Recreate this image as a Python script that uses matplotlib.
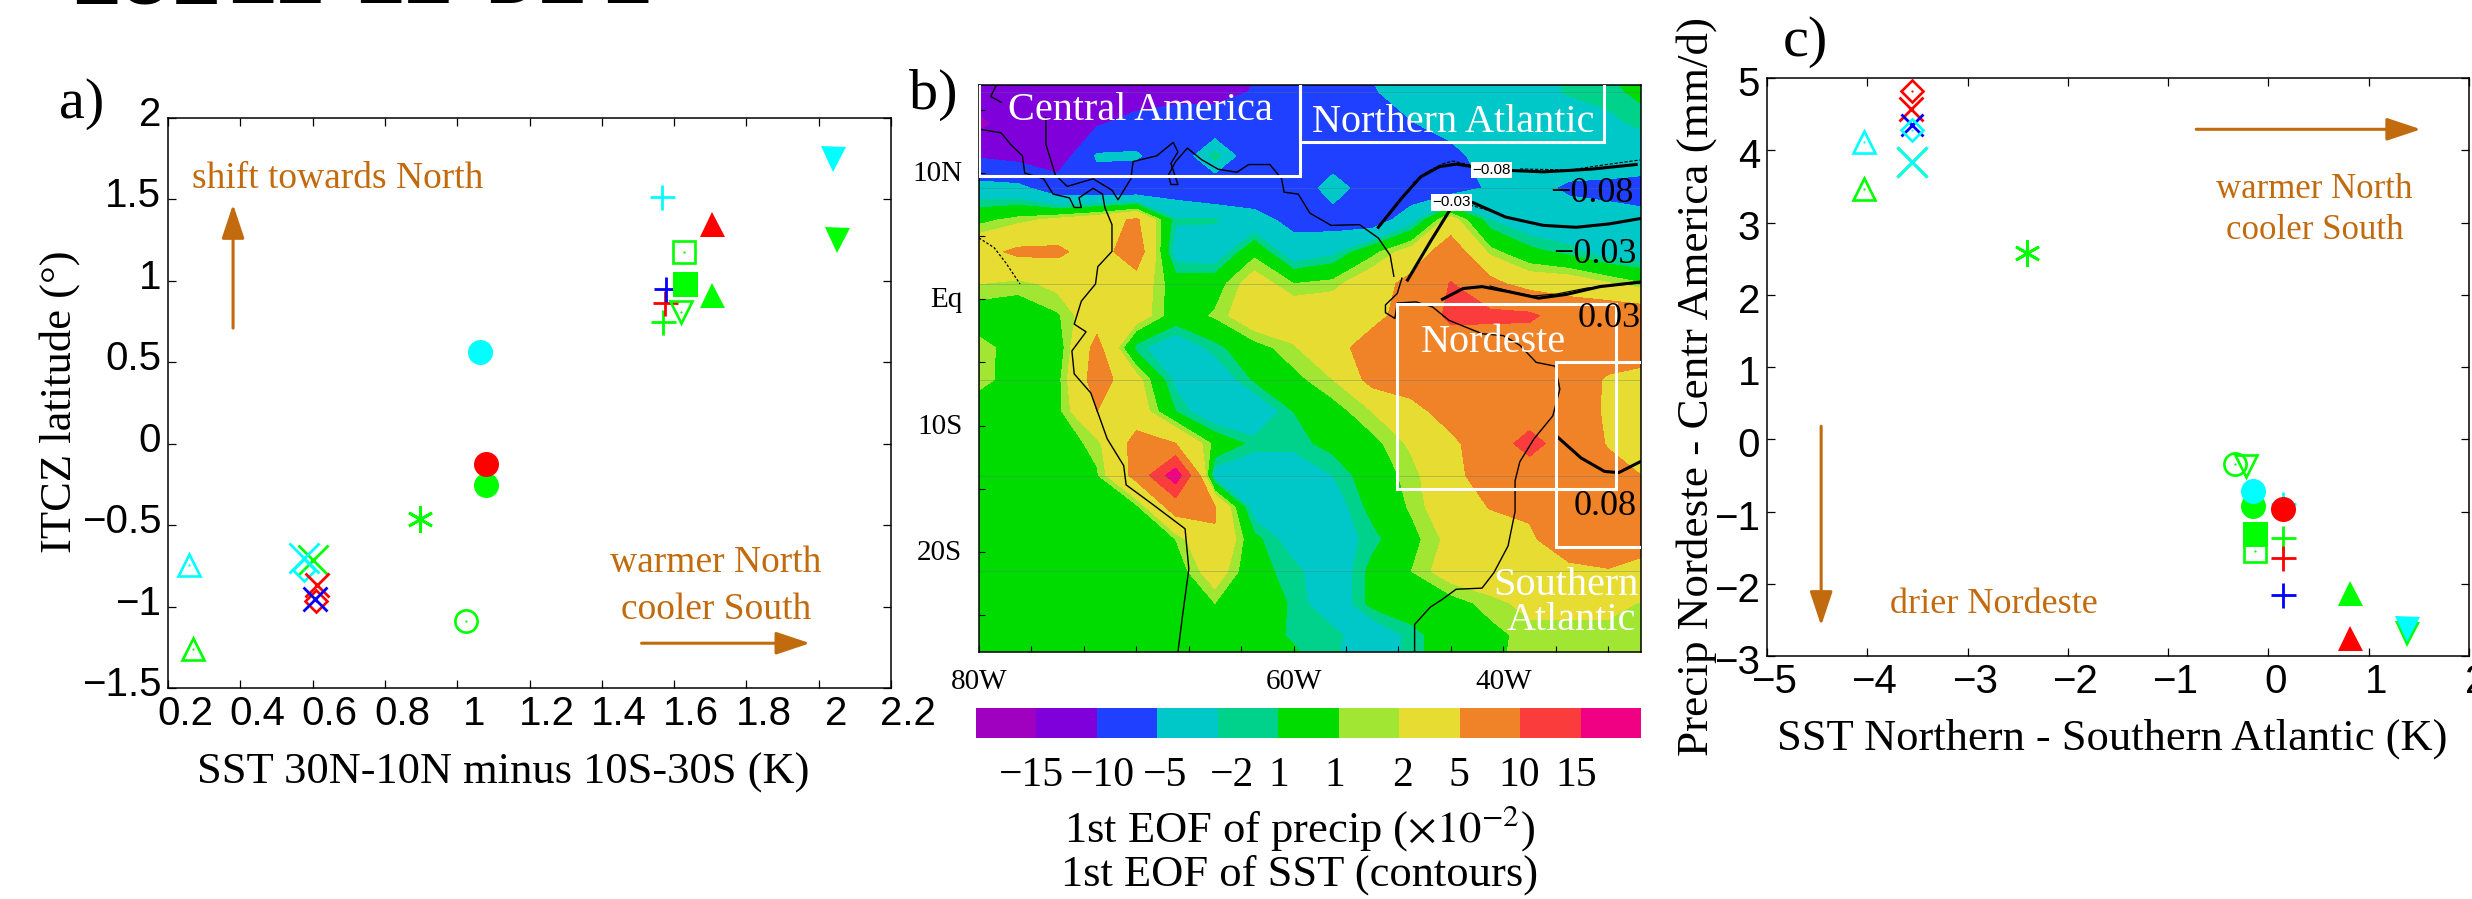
import numpy as np
import matplotlib
matplotlib.use('Agg')
import matplotlib.pyplot as plt
from matplotlib.colors import ListedColormap
from matplotlib.patches import Rectangle
from matplotlib.transforms import ScaledTranslation

W, H = 2472, 899
DPI = 100
plt.rcParams['mathtext.fontset'] = 'stix'
SERIF = 'Liberation Serif'
SANS = 'Liberation Sans'
ORANGE = '#C26A0E'
CY, GR, RD, BL = '#00FFFF', '#00FF00', '#FF0000', '#0000FF'

# ---------------- panel a ----------------
a_x = [0.257, 0.269, 0.602, 0.576, 0.577, 0.613, 0.61, 0.608, 0.897, 1.025, 1.079, 1.079, 1.064,
       1.566, 1.569, 1.576, 1.578, 1.627, 1.63, 1.619, 1.705, 1.704, 2.04, 2.05]
a_y = [-0.745, -1.26, -0.713, -0.70, -0.776, -0.87, -0.964, -0.955, -0.46, -1.09, -0.253, -0.124, 0.562,
       1.514, 0.747, 0.863, 0.95, 1.18, 0.982, 0.81, 1.348, 0.916, 1.746, 1.248]
a_c = [CY, GR, GR, CY, CY, RD, RD, BL, GR, GR, GR, RD, CY,
       CY, GR, RD, BL, GR, GR, GR, RD, GR, CY, GR]
a_m = ['^o', '^o', 'x', 'x', 'Do', 'xm', 'Do', 'xm', '*', 'oo', 'o', 'o', 'o',
       '+', '+', '+', '+', 'so', 's', 'vo', '^', '^', 'v', 'v']
a_xticks = [0.2, 0.4, 0.6, 0.8, 1, 1.2, 1.4, 1.6, 1.8, 2, 2.2]
a_xlabels = ['0.2', '0.4', '0.6', '0.8', '1', '1.2', '1.4', '1.6', '1.8', '2', '2.2']
a_yticks = [-1.5, -1, -0.5, 0, 0.5, 1, 1.5, 2]
a_ylabels = ['\u22121.5', '\u22121', '\u22120.5', '0', '0.5', '1', '1.5', '2']

# ---------------- panel c ----------------
c_x = [-3.556, -3.56, -3.556, -3.556, -3.556, -3.556, -4.036, -4.036, -2.41, -0.337, -0.22,
       -0.153, -0.153, 0.148, 0.148, -0.138, -0.138, 0.148, 0.148, 0.148, 0.816, 0.816, 1.378, 1.378]
c_y = [4.82, 4.57, 4.35, 3.84, 3.84, 4.28, 4.12, 3.47, 2.58, -0.346, -0.374,
       -0.925, -0.72, -0.9, -0.96, -1.54, -1.31, -1.37, -1.64, -2.16, -2.13, -2.75, -2.70, -2.63]
c_c = [RD, RD, BL, GR, CY, CY, CY, GR, GR, GR, GR,
       GR, CY, CY, RD, GR, GR, GR, RD, BL, GR, RD, GR, CY]
c_m = ['Do', 'xm', 'xs', 'xl', 'xl', 'Do', '^o', '^o', '*', 'oo', 'vo',
       'o', 'o', '+', 'o', 'so', 's', '+', '+', '+', '^', '^', 'v', 'v']
c_xticks = [-5, -4, -3, -2, -1, 0, 1, 2]
c_xlabels = ['\u22125', '\u22124', '\u22123', '\u22122', '\u22121', '0', '1', '2']
c_yticks = [-3, -2, -1, 0, 1, 2, 3, 4, 5]
c_ylabels = ['\u22123', '\u22122', '\u22121', '0', '1', '2', '3', '4', '5']

# ---------------- panel b: precipitation EOF (x10^-2) ----------------
grid_lon = -90 + 3.75 * np.arange(18)
grid_lat = 18.94 - 2.53 * np.arange(20)
precip = [
 [-13,-13,-13,-13,-13,-12,-11,-10.5,-7,-7,-4.5,-3.5,-3.5,-3.5,-3,-1.5,-0.8,0],
 [-13,-13,-13,-14,-13,-12,-11,-9.8,-7,-7,-5.3,-3.5,-3.5,-3.5,-3,-1.8,-1.4,-0.5],
 [-16,-13,-11.5,-10.5,-8,-7,-8.5,-7,-7,-7,-7,-5.2,-3.8,-3.5,-3.5,-3.5,-2.5,-1.5],
 [-10.5,-11.5,-13,-4.5,-4.5,-8.5,-1,-8.5,-7,-7,-7,-7,-6,-3.5,-3.5,-3.5,-3.5,-3.5],
 [-3.5,-4,-7.5,-7.5,-8,-7,-8.5,-7.5,-7.5,-3.5,-7,-7.5,-7,-4.5,-4.2,-5.4,-5.6,-6],
 [0.5,1.5,2.5,3.5,5.5,-1.8,-1.8,-3.8,-6,-6.5,-7,-3,3,-2,-3.5,-3.8,-4.2,-4.4],
 [4,5.6,5.6,3.5,7,-3,-3.5,0.5,-3.5,-2.5,0.5,3,7,1.5,-0.5,-1.5,-3,-3.5],
 [2,1.5,2.5,4,3.5,0,0.2,3,1,1.5,3.5,6,10.2,6,3.5,3.3,2.2,1],
 [0,0,0.8,3.5,3.2,0,1.2,3.5,3.5,3.5,4,6.5,11,11,10.8,7.5,7.5,7],
 [1.5,0.3,0,6,-1.5,-3.5,-1.5,0.3,1.8,3.8,6.5,7,7.5,7,7,7,7,7],
 [1.5,0.2,0.5,6.5,2.8,-2.5,-3.5,-0.8,0.5,2,6,6.5,7,7,7,7,4.6,3.5],
 [0,0,0.5,5,3.5,-1,-3.8,-3.8,-1,0.3,2,4,6.3,7,7,7,4.5,3.5],
 [0,0,0,1.5,6,5,0.5,-1.5,-1.5,-0.5,0.5,2.3,4.3,7,12,7,4.8,3.5],
 [0,0,0,0.8,6,18,-3,-3.5,-3.5,-2,0,1.5,3.8,7,7,7,6,4.8],
 [0,0,0,0,0.5,6.5,5.2,-3,-3.5,-3,-0.5,1.2,3.5,5.1,5.5,7,7,7],
 [0,0,0,0,0,1,4.8,-0.5,-3,-3,-1.5,0.5,2.5,3.5,4.5,7,7,6.5],
 [0,0,0,0,0,0,3.2,-0.5,-1.5,-3.5,-0.5,1,3,3.5,3.5,4.2,4.8,3.5],
 [0,0,0,0,0,0,1,0,-1.2,-3.5,-0.5,0,0.3,1.5,2.5,2.5,2.5,1.8],
 [0,0,0,0,0,0,0,-0.3,-1.2,-1.5,-3.5,-1.5,0,0.5,1.5,1.5,1.5,1.5],
 [0,0,0,0,0,0,0,-0.3,-0.5,-1.8,-3.5,-1.5,0,0.7,1.5,1.5,1.5,1.5],
]
cb_levels = [-100, -15, -10, -5, -2, -1, 1, 2, 5, 10, 15, 100]
cb_colors = ['#A000C0', '#8000DC', '#2040FF', '#00C8C8', '#00D28C', '#00DC00',
             '#A0E632', '#E6DC32', '#F08228', '#FA3C3C', '#F00082']
cb_labels = ['\u221215', '\u221210', '\u22125', '\u22122', '1', '1', '2', '5', '10', '15']
cb_label_pos = [0.92, 2.09, 3.12, 4.24, 5.0, 5.94, 7.06, 7.98, 8.99, 9.93]

coast_pac_lon = [-90, -87.89, -86.99, -85.86, -85.64, -83.84, -82.94, -81.37, -80.92, -80.24, -80.47, -79.12, -78.22,
                 -78.0, -77.32, -77.32, -78.67, -78.89, -80.24, -80.92, -79.79, -81.14, -80.92, -79.34, -77.77, -76.2,
                 -75.97, -73.5, -70.35, -69.99, -70.58, -71.03]
coast_pac_lat = [13.48, 13.18, 12.27, 11.36, 10.0, 9.54, 8.33, 8.03, 7.27, 7.27, 8.03, 8.79, 8.33,
                 7.27, 5.91, 3.79, 2.58, 1.21, -0.15, -1.97, -2.58, -4.09, -5.91, -7.42, -11.06, -13.18,
                 -14.7, -16.21, -18.18, -21.36, -25.0, -27.94]
coast_yuc_lon = [-88.34, -88.88, -87.89]
coast_yuc_lat = [16.97, 16.06, 15.6]
coast_car_lon = [-83.62, -83.62, -82.72, -81.59, -79.12, -77.32, -76.74, -75.52, -75.3, -73.05, -71.48, -71.03, -71.7,
                 -71.03, -71.7, -71.93, -71.25, -70.13, -68.78, -67.2, -65.41, -64.28, -62.26, -61.14, -60.91, -59.56,
                 -58.44, -56.42, -53.72, -51.92, -50.79, -50.44]
coast_car_lat = [14.39, 12.27, 9.85, 8.94, 9.54, 8.64, 7.88, 9.54, 10.91, 11.36, 12.42, 11.67, 10.76,
                 9.09, 9.09, 9.85, 10.91, 11.97, 11.06, 10.3, 10.06, 10.67, 10.67, 9.54, 8.48, 8.33,
                 6.82, 5.85, 5.91, 4.85, 3.48, 1.82]
coast_bra_lon = [-49.67, -50.12, -51.24, -51.24, -50.34, -50.12, -48.32, -46.75, -45.18, -42.03, -40.0, -38.43, -36.86,
                 -35.06, -34.61, -35.28, -37.08, -38.43, -38.88, -38.88, -39.55, -40.9, -42.03, -44.5, -45.85, -46.97,
                 -48.46, -48.46]
coast_bra_lat = [1.67, 0.45, -0.45, -1.06, -1.52, -0.3, -0.21, -0.61, -1.67, -2.73, -2.88, -3.64, -5.0,
                 -5.3, -7.12, -9.24, -11.06, -12.88, -14.39, -16.82, -19.54, -21.66, -22.88, -22.97, -23.79, -24.39,
                 -25.76, -27.94]
sst_pac_lon = [-90, -88.56, -87.44, -86.09]
sst_pac_lat = [4.85, 4.09, 2.88, 1.21]
sst_m08_lon = [-51.92, -49.67, -47.87, -46.07, -44.5, -42.93, -39.55, -36.18, -31.69, -27.33]
sst_m08_lat = [5.7, 8.03, 9.7, 10.51, 10.7, 10.51, 10.21, 10.09, 10.3, 10.67]
sst_m03_lon = [-49.13, -46.97, -44.95, -42.93, -39.78, -36.18, -33.04, -29.89, -26.74]
sst_m03_lat = [1.52, 4.55, 7.27, 7.67, 6.51, 5.85, 5.7, 5.97, 6.42]
sst_p03_lon = [-45.8, -43.83, -42.03, -39.55, -36.63, -33.93, -30.79, -26.97]
sst_p03_lat = [0, 0.85, 1.0, 0.61, 0.09, 0.39, 1.0, 1.36]
sst_p08_lon = [-34.83, -32.59, -30.34, -28.99, -26.97]
sst_p08_lat = [-10.91, -12.57, -13.64, -13.73, -12.88]
# thin companion contours running next to the thick ones
twin_a_lon = [-48.61, -47.28, -45.85, -44.8, -43.18]
twin_a_lat = [9.21, 10.08, 10.71, 10.95, 10.63]
twin_b_lon = [-38.41, -33.64, -30.5, -26.97]
twin_b_lat = [10.32, 10.24, 10.63, 11.03]
twin_c_lon = [-43.18, -40.6]
twin_c_lat = [7.47, 6.83]
twin_d_lon = [-41.27, -39.08, -37.17, -34.88, -32.02, -26.97]
twin_d_lat = [1.05, 0.57, 0.26, 0.42, 0.89, 1.29]
grat_lat = [16.45, 8.85, 1.24, -6.36, -13.97, -21.55]
map_xticklabels = {0: '80W', 6: '60W', 10: '40W'}
map_yticks = [-25, -20, -15, -10, -5, 0, 5, 10, 15]
map_ylabels = ['', '20S', '', '10S', '', 'Eq', '', '10N', '']

# header cut off by the top edge of the reference
head_words = ['EUE', 'EE', 'EE', 'DE', 'E']

STYLE = {'o': dict(marker='o', ms=18), 's': dict(marker='s', ms=18), '^': dict(marker='^', ms=18),
         'v': dict(marker='v', ms=18)}


def axes_px(x0, y0, x1, y1):
    return fig.add_axes([x0 / W, 1 - y1 / H, (x1 - x0) / W, (y1 - y0) / H])


def ftext(x, y, s, size, **kw):
    kw.setdefault('family', SERIF)
    kw.setdefault('ha', 'center')
    kw.setdefault('va', 'center')
    return fig.text(x / W, 1 - y / H, s, fontsize=size, **kw)


def draw_points(ax, xs, ys, cs, ms):
    for x, y, c, m in zip(xs, ys, cs, ms):
        if m in STYLE:
            ax.plot(x, y, ls='none', color=c, mew=0, clip_on=False, **STYLE[m])
        elif m in ('^o', 'vo', 'oo', 'so', 'Do'):
            size = {'^o': 15.5, 'vo': 15.5, 'oo': 16, 'so': 16, 'Do': 11.5}[m]
            ax.plot(x, y, ls='none', color=c, marker=m[0], ms=size, mfc='none', mew=1.9, clip_on=False)
            ax.plot(x, y, ls='none', color=c, marker='o', ms=1.6, mew=0, clip_on=False)
        elif m in ('x', 'xm', 'xs', 'xl'):
            size = {'x': 21, 'xm': 17, 'xs': 16, 'xl': 22}[m]
            ax.plot(x, y, ls='none', color=c, marker='x', ms=size, mew=2, clip_on=False)
        elif m == '+':
            ax.plot(x, y, ls='none', color=c, marker='+', ms=18, mew=2, clip_on=False)
        elif m == '*':
            ax.plot(x, y, ls='none', color=c, marker=(6, 2, 0), ms=19, mew=2, clip_on=False)


def style_scatter(ax, xt, xl, yt, yl, dx, dy):
    ax.set_xticks(xt)
    ax.set_xticklabels(xl, family=SANS, fontsize=29)
    ax.set_yticks(yt)
    ax.set_yticklabels(yl, family=SANS, fontsize=29)
    ax.tick_params(direction='in', top=True, right=True, length=5.8, width=0.9, pad=5)
    for s in ax.spines.values():
        s.set_linewidth(1.1)
    off_x = ScaledTranslation(dx / DPI, 0, fig.dpi_scale_trans)
    off_y = ScaledTranslation(0, dy / DPI, fig.dpi_scale_trans)
    for t in ax.get_xticklabels():
        t.set_transform(t.get_transform() + off_x)
    for t in ax.get_yticklabels():
        t.set_transform(t.get_transform() + off_y)


def arrow(ax, x0, y0, x1, y1):
    ax.annotate('', xy=(x1, y1), xytext=(x0, y0),
                arrowprops=dict(arrowstyle='-|>,head_length=1.5,head_width=0.5', color=ORANGE, lw=2.2,
                                shrinkA=0, shrinkB=0, mutation_scale=14))


fig = plt.figure(figsize=(W / DPI, H / DPI), dpi=DPI, facecolor='white')

# header
for px, word in zip([71, 227, 355, 485, 602], head_words):
    ftext(px, 3, word, 52, family=SANS, weight='bold', ha='left', va='baseline')

# panel a
axa = axes_px(168, 118, 891, 688)
axa.set_xlim(0.2, 2.2)
axa.set_ylim(-1.5, 2)
style_scatter(axa, a_xticks, a_xlabels, a_yticks, a_ylabels, 17, 7)
draw_points(axa, a_x, a_y, a_c, a_m)
arrow(axa, 0.38, 0.71, 0.38, 1.47)
arrow(axa, 1.51, -1.225, 1.976, -1.225)
axa.text(0.67, 1.63, 'shift towards North', family=SERIF, fontsize=27, color=ORANGE, ha='center', va='center')
axa.text(1.715, -0.73, 'warmer North', family=SERIF, fontsize=27, color=ORANGE, ha='center', va='center')
axa.text(1.715, -1.02, 'cooler South', family=SERIF, fontsize=27, color=ORANGE, ha='center', va='center')
ftext(503, 773, 'SST 30N-10N minus 10S-30S (K)', 32)
ftext(60, 402, 'ITCZ latitude (\u00b0)', 32, rotation=90)
ftext(82, 104, 'a)', 42)

# panel b
axb = axes_px(979, 85, 1641, 652)
axb.set_xlim(-90, -26.87)
axb.set_ylim(-27.94, 16.97)
axb.contourf(grid_lon, grid_lat, np.array(precip), levels=cb_levels, colors=cb_colors, zorder=1)
for lat in grat_lat:
    axb.axhline(lat, color='#507878', lw=0.4, alpha=0.6, zorder=2)
for lo, la in [(coast_pac_lon, coast_pac_lat), (coast_yuc_lon, coast_yuc_lat),
               (coast_car_lon, coast_car_lat), (coast_bra_lon, coast_bra_lat)]:
    axb.plot(lo, la, color='black', lw=1.0, zorder=3)
axb.plot(sst_pac_lon, sst_pac_lat, color='black', lw=0.9, ls=(0, (2, 1.5)), zorder=3)
for lo, la in [(twin_a_lon, twin_a_lat), (twin_b_lon, twin_b_lat), (twin_c_lon, twin_c_lat)]:
    axb.plot(lo, la, color='black', lw=0.8, ls=(0, (3, 1.5)), zorder=3)
axb.plot(twin_d_lon, twin_d_lat, color='black', lw=0.8, zorder=3)
for lo, la in [(sst_m08_lon, sst_m08_lat), (sst_m03_lon, sst_m03_lat),
               (sst_p03_lon, sst_p03_lat), (sst_p08_lon, sst_p08_lat)]:
    axb.plot(lo, la, color='black', lw=2.2, zorder=4, solid_joinstyle='round')
for (x0, y0, x1, y1) in [(-90, 9.76, -59.38, 20), (-59.38, 12.48, -30.43, 20),
                         (-50.17, -15.06, -29.21, -0.36), (-35.01, -19.66, -20, -4.97)]:
    axb.add_patch(Rectangle((x0, y0), x1 - x0, y1 - y0, fill=False, ec='white', lw=2.2, zorder=5))
for x, y, s in [(-74.62, 14.95, 'Central America'), (-44.82, 14.02, 'Northern Atlantic'),
                (-40.9, -3.45, 'Nordeste'), (-34.03, -22.65, 'Southern'), (-33.48, -25.45, 'Atlantic')]:
    axb.text(x, y, s, family=SERIF, fontsize=29, color='white', ha='center', va='center', zorder=6)
for x, y, s in [(-31.6, 8.4, '\u22120.08'), (-31.3, 3.55, '\u22120.03'), (-29.89, -1.5, '0.03'), (-30.25, -16.4, '0.08')]:
    axb.text(x, y, s, family=SERIF, fontsize=26, color='black', ha='center', va='center', zorder=6)
for x, y, s in [(-41.13, 10.24, '\u22120.08'), (-44.95, 7.67, '\u22120.03')]:
    axb.text(x, y, s, family=SANS, fontsize=11, color='black', ha='center', va='center', zorder=6,
             bbox=dict(fc='white', ec='none', pad=1))
axb.set_xticks(-90 + 5 * np.arange(13))
axb.set_xticklabels([map_xticklabels.get(i, '') for i in range(13)], family=SERIF, fontsize=21)
axb.set_yticks(map_yticks)
axb.set_yticklabels(map_ylabels, family=SERIF, fontsize=21)
axb.tick_params(direction='in', length=4, width=0.8, pad=12, bottom=True, left=True)
for t in axb.get_yticklabels():
    t.set_transform(t.get_transform() + ScaledTranslation(0, 2 / DPI, fig.dpi_scale_trans))
for s in axb.spines.values():
    s.set_linewidth(1.1)
ftext(592 * 1.5765, 60 * 1.5765, 'b)', 42)

# colourbar
axc_b = axes_px(976, 708, 1641, 738)
cmap = ListedColormap(cb_colors)
axc_b.pcolormesh(np.arange(12), [0, 1], [np.arange(11)], cmap=cmap, vmin=-0.5, vmax=10.5)
axc_b.set_xticks(cb_label_pos)
axc_b.set_xticklabels(cb_labels, family=SERIF, fontsize=30)
axc_b.set_yticks([])
axc_b.tick_params(length=0, pad=13)
for s in axc_b.spines.values():
    s.set_visible(False)
ftext(1300, 828, r'1st EOF of precip ($\times 10^{-2}$)', 32)
ftext(1300, 875, '1st EOF of SST (contours)', 32)

# panel c
axc = axes_px(1767, 78, 2469, 656)
axc.set_xlim(-5, 2)
axc.set_ylim(-3, 5)
style_scatter(axc, c_xticks, c_xlabels, c_yticks, c_ylabels, 7, -3)
draw_points(axc, c_x, c_y, c_c, c_m)
arrow(axc, -0.72, 4.29, 1.52, 4.29)
arrow(axc, -4.46, 0.18, -4.46, -2.58)
axc.text(0.46, 3.45, 'warmer North', family=SERIF, fontsize=25, color=ORANGE, ha='center', va='center')
axc.text(0.46, 2.89, 'cooler South', family=SERIF, fontsize=25, color=ORANGE, ha='center', va='center')
axc.text(-2.74, -2.29, 'drier Nordeste', family=SERIF, fontsize=26, color=ORANGE, ha='center', va='center')
ftext(2112, 739, 'SST Northern - Southern Atlantic (K)', 32)
ftext(1697, 386, 'Precip Nordeste - Centr America (mm/d)', 32.5, rotation=90)
ftext(1805, 42, 'c)', 42)

fig.savefig('out.png', dpi=DPI, facecolor='white')
